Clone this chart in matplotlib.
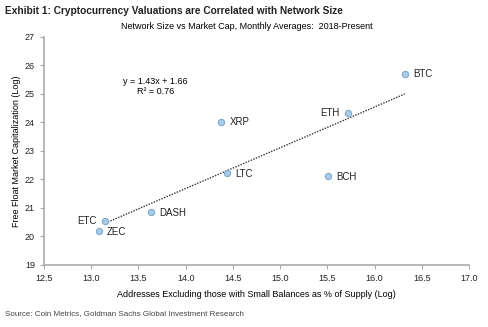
import matplotlib.pyplot as plt
import numpy as np

plt.rcParams['font.family'] = ['Liberation Sans', 'DejaVu Sans']

coins = ["BTC", "ETH", "BCH", "XRP", "LTC", "DASH", "ETC", "ZEC"]
addresses = [16.32, 15.72, 15.51, 14.38, 14.44, 13.63, 13.15, 13.08]
market_cap = [25.71, 24.34, 22.12, 24.01, 22.24, 20.87, 20.53, 20.20]
slope, intercept = 1.43, 1.66

# label placement: (dx, dy) in points, alignment
label_pos = {
    "BTC": (6, 0, "left"), "ETH": (-6, 0, "right"), "BCH": (6, -1, "left"),
    "XRP": (6, 0, "left"), "LTC": (6, -1, "left"), "DASH": (6, -1, "left"),
    "ETC": (-6, 0, "right"), "ZEC": (6, -1, "left"),
}

fig = plt.figure(figsize=(4.88, 3.27), dpi=100)
ax = fig.add_axes([0.09, 0.19, 0.871, 0.697])

ax.scatter(addresses, market_cap, s=20, color="#a9cde8", edgecolors="#7ea9cc",
           linewidths=0.8, zorder=3)
for c, x, y in zip(coins, addresses, market_cap):
    dx, dy, ha = label_pos[c]
    ax.annotate(c, (x, y), xytext=(dx, dy), textcoords="offset points",
                ha=ha, va="center", fontsize=7, color="#222222")

xt = np.array([13.15, 16.32])
ax.plot(xt, slope * xt + intercept, color="#333333", linestyle=(0, (1, 1)),
        linewidth=1.0, zorder=2)

ax.text(13.68, 25.43, f"y = {slope}x + {intercept}", ha="center", va="center",
        fontsize=6.5)
ax.text(13.68, 25.08, "R² = 0.76", ha="center", va="center", fontsize=6.5)

ax.set_xlim(12.5, 17.0)
ax.set_ylim(19, 27)
ax.set_xticks(np.arange(12.5, 17.01, 0.5))
ax.set_xticklabels([f"{v:.1f}" for v in np.arange(12.5, 17.01, 0.5)])
ax.set_yticks(range(19, 28))
for s in ["top", "right"]:
    ax.spines[s].set_visible(False)
for s in ["left", "bottom"]:
    ax.spines[s].set_color("#aaaaaa")
    ax.spines[s].set_linewidth(1.2)
ax.tick_params(labelsize=6.5, colors="#aaaaaa", labelcolor="#222222",
               length=3, width=0.8)

ax.set_xlabel("Addresses Excluding those with Small Balances as % of Supply (Log)",
              fontsize=6.5, labelpad=5)
ax.set_ylabel("Free Float Market Capitalization (Log)", fontsize=6.5, labelpad=3)

fig.text(0.01, 0.965, "Exhibit 1: Cryptocurrency Valuations are Correlated with Network Size",
         fontsize=7.3, fontweight="bold", va="center", color="#222222")
fig.text(0.506, 0.918, "Network Size vs Market Cap, Monthly Averages:  2018-Present",
         fontsize=6.5, ha="center", va="center")
fig.text(0.01, 0.04, "Source: Coin Metrics, Goldman Sachs Global Investment Research",
         fontsize=5.8, va="center", color="#444444")

fig.savefig("out.png", dpi=100)
